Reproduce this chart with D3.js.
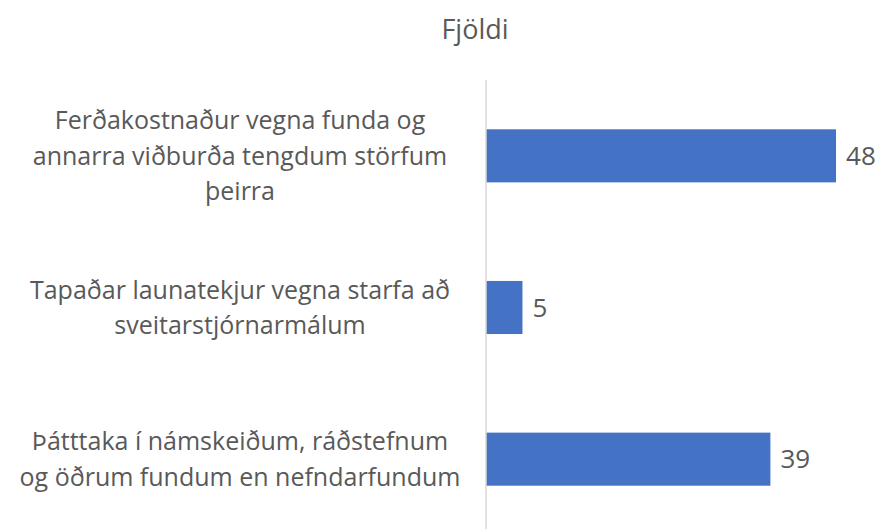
<!DOCTYPE html>
<html>
<head>
  <meta charset="utf-8" />
  <script src="https://d3js.org/d3.v7.min.js"></script>
  <style>
  body { margin: 0; background: #fff; }
  text { font-family: "Open Sans", Lato, sans-serif; fill: #595959; }
  </style>
</head>
<body>
  <script>
  var categories = [
    ["Ferðakostnaður vegna funda og", "annarra viðburða tengdum störfum", "þeirra"],
    ["Tapaðar launatekjur vegna starfa að", "sveitarstjórnarmálum"],
    ["Þátttaka í námskeiðum, ráðstefnum", "og öðrum fundum en nefndarfundum"]
  ];
  var values = [48, 5, 39];
  var title = "Fjöldi";

  var width = 885, height = 529;

  var svg = d3.select("body").append("svg")
    .attr("width", width)
    .attr("height", height);

  var x = d3.scaleLinear().domain([0, 50]).range([486, 850.6]);
  var y = d3.scaleBand().domain(d3.range(values.length))
    .range([80, 535]).paddingInner(0.65).paddingOuter(0.325);

  svg.append("text")
    .attr("x", 475).attr("y", 30)
    .attr("dy", "0.35em")
    .attr("text-anchor", "middle")
    .style("font-size", "27px")
    .text(title);

  svg.selectAll(".bar").data(values).enter().append("rect")
    .attr("class", "bar")
    .attr("x", x(0))
    .attr("y", function(d, i) { return y(i); })
    .attr("width", function(d) { return x(d) - x(0); })
    .attr("height", y.bandwidth())
    .style("fill", "#4472C4");

  // vertical category axis line
  svg.append("line")
    .attr("x1", x(0)).attr("x2", x(0))
    .attr("y1", 80).attr("y2", height)
    .style("stroke", "#d9d9d9").style("stroke-width", 1.5);

  svg.selectAll(".val").data(values).enter().append("text")
    .attr("class", "val")
    .attr("x", function(d) { return x(d) + 10; })
    .attr("y", function(d, i) { return y(i) + y.bandwidth() / 2; })
    .attr("dy", "0.35em")
    .style("font-size", "26px")
    .text(function(d) { return d; });

  var lineH = 35.5;
  var labels = svg.selectAll(".lab").data(categories).enter().append("text")
    .attr("class", "lab")
    .attr("text-anchor", "middle")
    .style("font-size", "25px");

  labels.each(function(lines, i) {
    var cy = y(i) + y.bandwidth() / 2;
    var top = cy - (lines.length - 1) * lineH / 2;
    d3.select(this).selectAll("tspan").data(lines).enter().append("tspan")
      .attr("x", 240)
      .attr("y", function(d, j) { return top + j * lineH; })
      .attr("dy", "0.35em")
      .text(function(d) { return d; });
  });
  </script>
</body>
</html>
